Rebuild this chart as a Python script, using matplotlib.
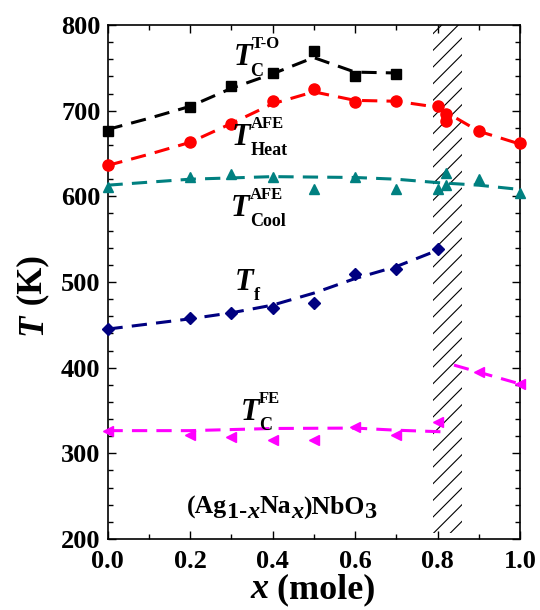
import numpy as np
import matplotlib
matplotlib.use("Agg")
import matplotlib.pyplot as plt
import matplotlib.transforms as mtransforms
from matplotlib.patches import Rectangle
from matplotlib.ticker import MultipleLocator

plt.rcParams['font.family'] = ['Liberation Serif', 'DejaVu Serif']
plt.rcParams['font.weight'] = 'bold'
plt.rcParams['hatch.linewidth'] = 0.8

# measured points (x in mole, T in K)
x_tc = [0.0, 0.2, 0.3, 0.4, 0.5, 0.6, 0.7]
t_tc = [676, 704, 729, 744, 770, 741, 743]

x_heat = [0.0, 0.2, 0.3, 0.4, 0.5, 0.6, 0.7, 0.8, 0.82, 0.82, 0.9, 1.0]
t_heat = [636, 663, 684, 711, 725, 710, 711, 705, 696, 688, 676, 662]

x_cool = [0.0, 0.2, 0.3, 0.4, 0.5, 0.6, 0.7, 0.8, 0.82, 0.82, 0.9, 1.0]
t_cool = [611, 622, 626, 623, 608, 622, 609, 609, 627, 613, 620, 604]

x_tf = [0.0, 0.2, 0.3, 0.4, 0.5, 0.6, 0.7, 0.8]
t_tf = [445, 458, 464, 470, 475, 509, 515, 538]

x_fe = [0.0, 0.2, 0.3, 0.4, 0.5, 0.6, 0.7, 0.8, 0.9, 1.0]
t_fe = [326, 321, 319, 315, 316, 331, 321, 337, 395, 381]

# dashed guide lines
xl_tc = [0.0, 0.1, 0.2, 0.3, 0.4, 0.5, 0.6, 0.7]
tl_tc = [678, 691, 705, 726, 743, 762, 745, 744]

xl_heat = [0.0, 0.1, 0.2, 0.3, 0.4, 0.5, 0.6, 0.7, 0.8, 0.85, 0.9, 1.0]
tl_heat = [636, 649, 663, 685, 708, 722, 712, 711, 704, 690, 676, 661]

xl_cool = [0.0, 0.2, 0.4, 0.6, 0.7, 0.8, 0.9, 1.0]
tl_cool = [613, 620, 623, 622, 620, 616, 613, 608]

xl_tf = [0.0, 0.1, 0.2, 0.3, 0.4, 0.5, 0.6, 0.7, 0.8]
tl_tf = [445, 451, 457, 464, 473, 487, 504, 518, 537]

xl_fe1 = [0.0, 0.2, 0.4, 0.6, 0.7, 0.82]
tl_fe1 = [326.5, 326.5, 329, 329.5, 327, 325]
xl_fe2 = [0.84, 1.0]
tl_fe2 = [403, 381]

hatch_x = [0.79, 0.86]
hatch_t = [207, 800]

fig = plt.figure(figsize=(5.4, 6.1), dpi=100)
ax = fig.add_axes((107.5/540, 71/610, 412.5/540, 514/610))

dash = (5, 3)
lw = 2.2
ax.add_patch(Rectangle((hatch_x[0], hatch_t[0]), hatch_x[1]-hatch_x[0], hatch_t[1]-hatch_t[0],
                       facecolor='white', edgecolor='black', hatch='//', lw=0, zorder=1))

series = [
    (xl_tc, tl_tc, x_tc, t_tc, 'black', 's', 6.5),
    (xl_heat, tl_heat, x_heat, t_heat, 'red', 'o', 8),
    (xl_cool, tl_cool, x_cool, t_cool, '#008080', '^', 7.5),
    (xl_tf, tl_tf, x_tf, t_tf, '#000080', 'D', 6),
    (xl_fe1, tl_fe1, x_fe, t_fe, '#ff00ff', '<', 7.5),
]
for xl, tl, xp, tp, c, m, ms in series:
    ax.plot(xl, tl, '--', color=c, lw=lw, dashes=dash, zorder=2)
    ax.plot(xp, tp, m, color=c, ms=ms, lw=0, zorder=3, clip_on=False)
ax.plot(xl_fe2, tl_fe2, '--', color='#ff00ff', lw=lw, dashes=dash, zorder=2)

ax.set_xlim(0, 1.0)
ax.set_ylim(200, 800)
ax.xaxis.set_major_locator(MultipleLocator(0.2))
ax.xaxis.set_minor_locator(MultipleLocator(0.1))
ax.yaxis.set_major_locator(MultipleLocator(100))
ax.yaxis.set_minor_locator(MultipleLocator(20))
ax.tick_params(which='both', direction='in', top=True, right=True, width=1)
ax.tick_params(which='major', length=6, labelsize=19)
ax.tick_params(which='minor', length=3.5)
ax.tick_params(axis='x', pad=8)
ax.tick_params(axis='y', pad=5)
ax.set_xticklabels(['%.1f' % v for v in ax.get_xticks()])
for sp in ax.spines.values():
    sp.set_linewidth(1.2)

renderer = fig.canvas.get_renderer()


def chain(x, y, parts, transform, rotation=0):
    # parts: (text, size, italic, dy points)
    dx = 0
    for s, size, it, dy in parts:
        if rotation:
            tr = mtransforms.offset_copy(transform, fig=fig, x=-dy, y=dx, units='points')
        else:
            tr = mtransforms.offset_copy(transform, fig=fig, x=dx, y=dy, units='points')
        t = fig.text(x, y, s, transform=tr, fontsize=size, fontweight='bold',
                     fontstyle='italic' if it else 'normal', ha='left', va='baseline',
                     rotation=rotation, rotation_mode='anchor')
        bb = t.get_window_extent(renderer)
        dx += (bb.height if rotation else bb.width) * 72 / fig.dpi


def tlabel(x, y, sup=None, sub=None, sub_shift=0):
    t = ax.text(x, y, 'T', fontsize=22, fontweight='bold', fontstyle='italic',
                ha='left', va='baseline')
    w = t.get_window_extent(renderer).width * 72 / fig.dpi
    if sup:
        tr = mtransforms.offset_copy(ax.transData, fig=fig, x=w, y=12.5, units='points')
        ax.text(x, y, sup, transform=tr, fontsize=12, fontweight='bold', ha='left', va='baseline')
    if sub:
        tr = mtransforms.offset_copy(ax.transData, fig=fig, x=w-sub_shift, y=-7.5, units='points')
        ax.text(x, y, sub, transform=tr, fontsize=13, fontweight='bold', ha='left', va='baseline')


tlabel(0.305, 753, 'T-O', 'C', 1)
tlabel(0.302, 660, 'AFE', 'Heat')
tlabel(0.300, 577, 'AFE', 'Cool')
tlabel(0.309, 491, None, 'f')
tlabel(0.322, 339, 'FE', 'C')

# compound formula
chain(0.193, 230, [('(Ag', 18.5, False, 0), ('1-', 17.5, False, -3.5), ('x', 17.5, True, -3.5),
                   ('Na', 18.5, False, 0), ('x', 17.5, True, -3.5), (')NbO', 18.5, False, 0),
                   ('3', 17.5, False, -3.5)], ax.transData)

# axis labels
chain(0.463, 12/610, [('x', 26, True, 0), (' (mole)', 26, False, 0)], fig.transFigure)
chain(41/540, 275/610, [('T', 25, True, 0), (' (K)', 25, False, 0)], fig.transFigure, rotation=90)

fig.savefig('out.png', dpi=100)
